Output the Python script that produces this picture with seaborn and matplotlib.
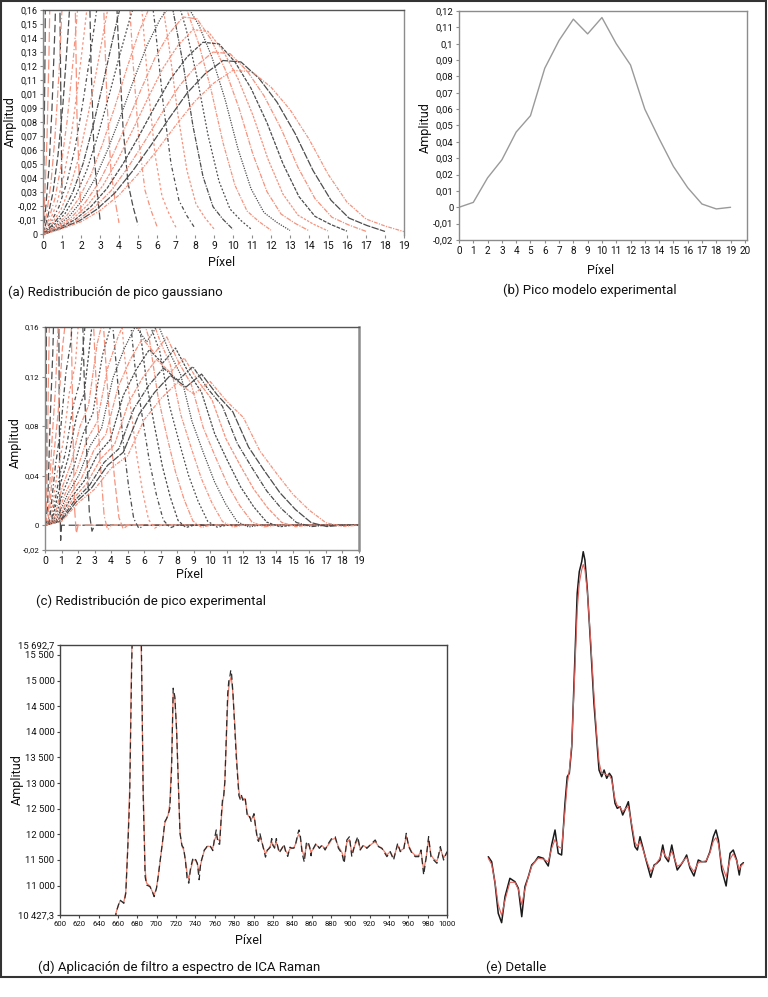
import numpy as np
import matplotlib
matplotlib.use("Agg")
import matplotlib.pyplot as plt
import seaborn as sns
from matplotlib.patches import Rectangle

# ---------------- DATA ----------------
# (a) widest redistributed gaussian peak, read at pixels 0..19
gauss_pixels = list(range(20))
gauss_profile = [0.0, 0.004, 0.009, 0.017, 0.028, 0.043, 0.060, 0.078, 0.095, 0.108,
                 0.117, 0.116, 0.105, 0.089, 0.068, 0.043, 0.023, 0.011, 0.006, 0.002]
# each redistributed curve: pixel where it ends and its peak amplitude (read)
gauss_ends = [1, 2, 3, 4, 5, 6, 7, 8, 9, 10, 11, 12, 13, 14, 15, 16, 17, 18, 19]
gauss_peaks = [1.67, 0.89, 0.62, 0.48, 0.39, 0.335, 0.29, 0.257, 0.231, 0.21,
               0.193, 0.178, 0.166, 0.155, 0.146, 0.137, 0.13, 0.124, 0.117]
gauss_colors = ["d", "r", "d", "r", "d", "r", "r", "d", "r", "d",
                "d", "r", "d", "r", "r", "d", "r", "d", "r"]
a_ytick_vals = [0.16, 0.15, 0.14, 0.13, 0.12, 0.11, 0.10, 0.09, 0.08,
                0.07, 0.06, 0.05, 0.04, 0.03, 0.02, 0.01, 0.0]
a_ytick_labels = ["0,16", "0,15", "0,14", "0,13", "0,12", "0,11", "0,01", "0,09", "0,08",
                  "0,07", "0,06", "0,05", "0,04", "0,03", "-0,02", "-0,01", "0"]

# (b) experimental model peak
exp_pixels = list(range(20))
exp_values = [0.0, 0.003, 0.018, 0.029, 0.046, 0.056, 0.085, 0.102, 0.115, 0.106,
              0.116, 0.100, 0.087, 0.060, 0.042, 0.025, 0.012, 0.002, -0.001, 0.0]
b_ytick_vals = [0.12, 0.11, 0.10, 0.09, 0.08, 0.07, 0.06, 0.05, 0.04, 0.03,
                0.02, 0.01, 0.0, -0.01, -0.02]
b_ytick_labels = ["0,12", "0,11", "0,1", "0,09", "0,08", "0,07", "0,06", "0,05", "0,04",
                  "0,03", "0,02", "0,01", "0", "-0,01", "-0,02"]

# (c) redistribution of the experimental peak (compressed width / peak read)
expr_ends = [1, 2, 3, 4, 5, 6, 7, 8, 9, 10, 11, 12, 13, 14, 15, 16, 17, 18, 19]
expr_peaks = [1.42, 0.79, 0.56, 0.44, 0.36, 0.31, 0.27, 0.24, 0.22, 0.20,
              0.187, 0.173, 0.162, 0.152, 0.143, 0.135, 0.128, 0.122, 0.116]
expr_colors = ["d", "r", "d", "r", "r", "d", "r", "d", "d", "r",
               "d", "r", "d", "r", "d", "r", "d", "d", "r"]
c_ytick_vals = [0.16, 0.12, 0.08, 0.04, 0.0, -0.02]
c_ytick_labels = ["0,16", "0,12", "0,08", "0,04", "0", "-0,02"]

# (d)/(e) Raman ICA spectrum: raw (dashed black) and filtered (red)
spec_x = [656, 658, 662, 666, 668, 670, 672, 674, 676, 678,
          680, 682, 684, 686, 688, 689.5, 693, 695, 697.3, 699.7,
          701.5, 703.2, 705, 706.6, 708.4, 710, 711.8, 713.5, 715.3, 717,
          718.7, 720.5, 722.2, 724,
          726.0, 727.8, 729.6, 731.3, 733.1, 734.9, 737.5, 740.2, 742.0, 743.8,
          745.5, 747.3, 749.1, 750.8, 752.6, 755.3, 757.9, 759.7, 761.5, 763.2,
          765.0, 766.8, 768.0, 769.1, 770.4, 772.1, 773.3, 774.4, 775.7, 776.5,
          777.4, 778.7, 780.5, 782.2, 783.7, 784.9, 786.3, 787.6, 789.0, 790.4,
          791.6, 793.4, 794.6, 796.1, 797.5, 798.7, 800.5, 802.3, 804.0, 805.3,
          806.7, 808.1, 809.9, 812.4, 814.2, 815.6, 817.3, 818.8, 820.0, 821.8,
          823.6, 824.8, 826.5, 828.4, 830.1, 831.5, 833.3, 835.4, 837.7, 839.5,
          841.8, 843.9, 845.7, 847.1, 848.4, 850.2, 852.5, 854.6, 856.3, 858.1,
          859.5, 860.3, 861.7,
          864.7, 868.1, 870.9, 874.0, 877.5, 880.9, 884.4, 887.8, 891.3, 893.7,
          896.5, 899.2, 901.6, 905.1, 907.8, 910.3, 913.7, 917.2, 920.6, 925.8,
          929.2, 932.7, 937.9, 941.3, 944.8, 949.0, 951.7, 955.2, 957.9, 960.4,
          963.8, 967.2, 970.7, 973.1, 975.9, 978.6, 981.0, 983.4, 986.2, 989.6,
          993.1, 996.5, 1000.0]
spec_raw = [10150, 10480, 10720, 10655, 10850, 11700, 12700, 15200, 17000, 17700,
            17600, 17000, 15900, 12735, 11175, 11013, 10980, 10900, 10785, 10947,
            11180, 11435, 11700, 11955, 12250, 12300, 12380, 12500, 13255, 14850,
            14685, 14035, 13060, 12020,
            11787, 11731, 11489, 11153, 11048, 11339, 11545, 11507, 11433, 11115,
            11451, 11563, 11694, 11731, 11787, 11769, 11683, 11918, 12086, 11825,
            11806, 12385, 12683, 12721, 13019, 14027, 14737, 14979, 15091, 15203,
            15110, 14774, 14139, 13505, 13094, 12758, 12683, 12758, 12665, 12721,
            12683, 12385, 12329, 12347, 12254, 12310, 12403, 12123, 11899, 11862,
            12011, 11899, 11750, 11556, 11694, 11713, 11750, 11918, 11787, 11731,
            11918, 11787, 11638, 11694, 11750, 11806, 11657, 11571, 11750, 11731,
            11731, 11843, 12011, 12086, 11974, 11638, 11459, 11825, 11862, 11750,
            11582, 11694, 11720,
            11825, 11727, 11793, 11695, 11825, 11923, 11955, 11727, 11630, 11435,
            11890, 11955, 11565, 11825, 11955, 11695, 11793, 11727, 11793, 11890,
            11760, 11727, 11565, 11663, 11500, 11825, 11663, 11695, 12020, 11760,
            11630, 11565, 11565, 11695, 11208, 11565, 11955, 11565, 11500, 11435,
            11760, 11500, 11663]
spec_filt = [10150, 10480, 10700, 10680, 10880, 11750, 12900, 15400, 17100, 17600,
             17400, 16700, 15600, 12900, 11300, 11050, 10990, 10900, 10820, 10950,
             11180, 11430, 11700, 11940, 12220, 12300, 12380, 12600, 13400, 14750,
             14650, 14050, 13100, 12050,
             11770, 11700, 11500, 11250, 11130, 11300, 11500, 11500, 11420, 11250,
             11420, 11560, 11680, 11730, 11770, 11760, 11730, 11880, 11980, 11900,
             11880, 12300, 12600, 12750, 13050, 13900, 14550, 14850, 15000, 15060,
             15000, 14750, 14200, 13600, 13150, 12850, 12720, 12720, 12700, 12700,
             12650, 12430, 12360, 12340, 12290, 12320, 12350, 12150, 11950, 11900,
             11960, 11880, 11760, 11620, 11680, 11720, 11770, 11860, 11800, 11760,
             11850, 11780, 11680, 11700, 11750, 11780, 11680, 11620, 11720, 11730,
             11740, 11830, 11960, 12000, 11930, 11700, 11560, 11760, 11820, 11740,
             11640, 11680, 11710,
             11800, 11740, 11780, 11720, 11800, 11900, 11920, 11760, 11650, 11520,
             11840, 11900, 11640, 11800, 11900, 11720, 11780, 11740, 11790, 11860,
             11770, 11730, 11600, 11660, 11540, 11790, 11680, 11720, 11960, 11780,
             11650, 11590, 11590, 11680, 11300, 11560, 11900, 11600, 11520, 11480,
             11720, 11540, 11650]
d_ytick_vals = [10427.3, 11000, 11500, 12000, 12500, 13000, 13500, 14000, 14500,
                15000, 15500, 15692.7]
d_ytick_labels = ["10 427,3", "11 000", "11 500", "12 000", "12 500", "13 000", "13 500",
                  "14 000", "14 500", "15 000", "15 500", "15 692,7"]
d_xtick_vals = list(range(600, 1001, 20))
detail_range = (725.5, 862.0)

captions = ["(a) Redistribución de pico gaussiano", "(b) Pico modelo experimental",
            "(c) Redistribución de pico experimental",
            "(d) Aplicación de filtro a espectro de ICA Raman", "(e) Detalle"]

# ---------------- STYLE ----------------
sns.set_theme(style="white")
plt.rcParams["font.family"] = ["Roboto", "DejaVu Sans"]

W, H = 768, 997
fig = plt.figure(figsize=(W / 100, H / 100), dpi=100)
fig.patch.set_facecolor("white")

DARK = "#4d4d4d"
SALMON = "#f5937e"
SPINE = "#8c8c8c"
TXT = "#111111"
COLMAP = {"d": DARK, "r": SALMON}
DASHES = [(0, (8, 3)), (0, (8, 3)), (0, (6, 3)), (0, (6, 2, 1, 2)), (0, (5, 2)),
          (0, (4, 2, 1, 2)), (0, (2, 2)), (0, (3, 2, 1, 2)), (0, (2, 1.5)),
          (0, (4, 1, 1, 1)), (0, (1.5, 1.5)), (0, (3, 1, 1, 1)), (0, (1, 1)),
          (0, (4, 1, 1, 1)), (0, (2, 1)), (0, (3, 1)), (0, (4, 1, 1, 1)),
          (0, (6, 1)), (0, (3, 1, 1, 1))]


def rect(l, t, r, b):
    return [l / W, 1 - b / H, (r - l) / W, (b - t) / H]


def ftext(x, y, s, **kw):
    kw.setdefault("color", TXT)
    fig.text(x / W, 1 - y / H, s, **kw)


def style_axes(ax, fs=6.5, color=SPINE):
    for s in ax.spines.values():
        s.set_color(color)
        s.set_linewidth(1.0)
    ax.tick_params(axis="both", which="major", direction="out", length=2.5, width=0.8,
                   color=color, pad=1.5, labelsize=fs, labelcolor=TXT,
                   bottom=True, left=True)
    ax.set_xlabel("")
    ax.set_ylabel("")


# ---------------- (a) ----------------
ax = fig.add_axes(rect(43, 10, 404, 235))
prof = np.asarray(gauss_profile)
for i, (end, peak, c) in enumerate(zip(gauss_ends, gauss_peaks, gauss_colors)):
    xs = np.asarray(gauss_pixels, dtype=float) * end / 19.0
    ys = prof / prof.max() * peak
    sns.lineplot(x=xs, y=ys, ax=ax, color=COLMAP[c], linewidth=0.9,
                 linestyle=DASHES[i], estimator=None, sort=False, legend=False)
ax.set_xlim(0, 19)
ax.set_ylim(-0.0004, 0.16)
ax.set_xticks(range(0, 20))
ax.set_yticks(a_ytick_vals)
ax.set_yticklabels(a_ytick_labels)
style_axes(ax, fs=6.5)
ax.spines["bottom"].set_visible(False)
ax.spines["top"].set_color("#555555")
ax.tick_params(axis="x", labelsize=7.5)
ftext(10, 122, "Amplitud", rotation=90, ha="center", va="center", fontsize=9)
ftext(222, 262, "Píxel", ha="center", va="center", fontsize=9)
ftext(8, 292, captions[0], ha="left", va="center", fontsize=9.5)

# ---------------- (b) ----------------
ax = fig.add_axes(rect(459, 11, 747, 240))
sns.lineplot(x=exp_pixels, y=exp_values, ax=ax, color="#9a9a9a", linewidth=1.0,
             estimator=None, sort=False, legend=False)
ax.set_xlim(0, 20.15)
ax.set_ylim(-0.02, 0.12)
ax.set_xticks(range(0, 21))
ax.set_yticks(b_ytick_vals)
ax.set_yticklabels(b_ytick_labels)
style_axes(ax, fs=6.8)
ax.tick_params(axis="x", labelsize=7.2)
ftext(425, 128, "Amplitud", rotation=90, ha="center", va="center", fontsize=9)
ftext(601, 270, "Píxel", ha="center", va="center", fontsize=9)
ftext(590, 290, captions[1], ha="center", va="center", fontsize=9.5)

# ---------------- (c) ----------------
ax = fig.add_axes(rect(45, 327, 359, 550))
eprof = np.asarray(exp_values)
for i, (end, peak, c) in enumerate(zip(expr_ends, expr_peaks, expr_colors)):
    xs = np.asarray(exp_pixels, dtype=float) * end / 19.0
    ys = eprof / eprof.max() * peak
    if end < 19:
        xs = np.append(xs, 19.0)
        ys = np.append(ys, 0.0)
    sns.lineplot(x=xs, y=ys, ax=ax, color=COLMAP[c], linewidth=0.9,
                 linestyle=DASHES[i], estimator=None, sort=False, legend=False)
ax.set_xlim(0, 19)
ax.set_ylim(-0.02, 0.16)
ax.set_xticks(range(0, 20))
ax.set_yticks(c_ytick_vals)
ax.set_yticklabels(c_ytick_labels)
style_axes(ax, fs=5.6)
ax.spines["top"].set_color("#555555")
ax.spines["right"].set_linewidth(1.8)
ax.tick_params(axis="x", labelsize=7.5)
ftext(15, 443, "Amplitud", rotation=90, ha="center", va="center", fontsize=9)
ftext(190, 574, "Píxel", ha="center", va="center", fontsize=9)
ftext(36, 601, captions[2], ha="left", va="center", fontsize=9.5)

# ---------------- (d) ----------------
ax = fig.add_axes(rect(60, 645, 447, 915))
sns.lineplot(x=spec_x, y=spec_filt, ax=ax, color="#f07f6c", linewidth=0.9,
             estimator=None, sort=False, legend=False)
sns.lineplot(x=spec_x, y=spec_raw, ax=ax, color="#2b2b2b", linewidth=0.9,
             linestyle=(0, (5, 3)), estimator=None, sort=False, legend=False)
ax.set_xlim(600, 1000)
ax.set_ylim(10427.3, 15692.7)
ax.set_xticks(d_xtick_vals)
ax.set_yticks(d_ytick_vals)
ax.set_yticklabels(d_ytick_labels)
style_axes(ax, fs=6.8, color="#444444")
ax.tick_params(axis="x", labelsize=5.6)
ftext(17, 780, "Amplitud", rotation=90, ha="center", va="center", fontsize=9)
ftext(249, 940, "Píxel", ha="center", va="center", fontsize=9)
ftext(38, 967, captions[3], ha="left", va="center", fontsize=9.5)

# ---------------- (e) ----------------
ax = fig.add_axes(rect(480, 540, 750, 940))
sx = np.asarray(spec_x, dtype=float)
sel = (sx >= detail_range[0]) & (sx <= detail_range[1])
sns.lineplot(x=sx[sel], y=np.asarray(spec_raw)[sel], ax=ax, color="#1a1a1a",
             linewidth=1.1, estimator=None, sort=False, legend=False)
sns.lineplot(x=sx[sel], y=np.asarray(spec_filt)[sel], ax=ax, color="#e0615c",
             linewidth=0.8, estimator=None, sort=False, legend=False)
ax.set_xlim(721.6, 865.2)
ax.set_ylim(10854, 15334)
ax.axis("off")
ftext(486, 967, captions[4], ha="left", va="center", fontsize=9.5)

# figure frame
fig.patches.append(Rectangle((0.6 / W, 1 - 977 / H), 765.5 / W, 976.4 / H,
                             transform=fig.transFigure, fill=False,
                             edgecolor="#333333", linewidth=1.5))

fig.savefig("out.png", dpi=100, facecolor="white")
